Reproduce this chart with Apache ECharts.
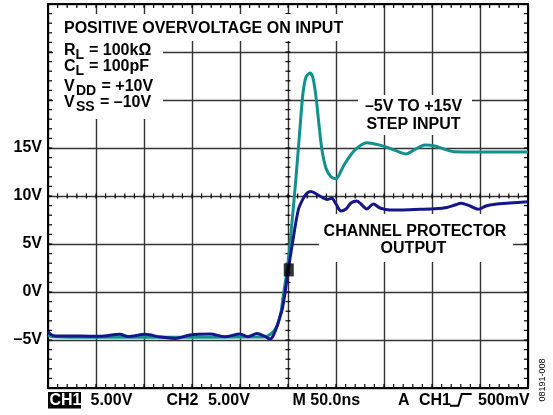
<!DOCTYPE html>
<html><head><meta charset="utf-8">
<script src="https://cdn.jsdelivr.net/npm/echarts@6/dist/echarts.min.js"></script>
<style>html,body{margin:0;padding:0;background:#fff}#c{width:553px;height:415px}</style>
</head><body><div id="c"></div>
<script>
// time in ns (50 ns/div), volts (5 V/div)
const inputTime  = [-250,-245,-200,-150,-100,-50,-30,-22.9,-18.75,-14.6,-10.4,-7.3,-4.7,-2.1,0,4.2,8.3,12.5,15.6,18.75,22.9,26,29.2,32.3,35.4,39.6,44.8,50,55.2,59.4,69.8,82,95.8,106,116.7,123,132.3,142.7,153,163.5,174,200,250];
const inputVolts = [-4.5,-4.65,-4.72,-4.7,-4.72,-4.7,-4.7,-4.64,-4.43,-4.06,-3.28,-2.08,-0.2,1.46,3.0,7.3,11.9,17.1,20.7,22.4,22.8,22.3,20.3,17.4,14.8,12.9,12.0,11.8,12.6,13.4,14.8,15.55,15.3,14.97,14.55,14.38,14.86,15.3,15.2,14.86,14.6,14.58,14.58];
const outputTime  = [-250,-246.9,-241.7,-216.7,-195.8,-175,-166.7,-149,-133,-117.7,-102,-81.25,-65.6,-50,-41.7,-32.3,-25,-18.75,-15.6,-11.5,-9.4,-6.25,-3.1,0.3,4.5,10.7,15.6,19.8,24,31.25,36.5,40.6,45.5,50,55.2,60.4,65.6,71.6,76,82,88.9,95.8,106.3,116.7,137.5,153,165.6,174,180.2,189.6,198.2,206.25,215.6,231.25,250];
const outputVolts = [-4.14,-4.43,-4.58,-4.58,-4.62,-4.41,-4.64,-4.41,-4.69,-4.84,-4.48,-4.38,-4.66,-4.38,-4.66,-4.32,-4.58,-4.9,-4.58,-3.6,-2.9,-1.9,-0.1,2.3,5.0,8.54,9.7,10.3,10.47,10.1,9.8,9.64,9.76,9.17,8.44,8.65,9.27,9.48,9.17,8.65,9.17,8.75,8.54,8.54,8.61,8.67,8.8,9.06,9.24,8.96,8.61,8.96,9.14,9.27,9.4];
const triggerMark = [0.8, 2.3];
const yTickValues = [-5, 0, 5, 10, 15];
const yTickLabels = ['–5V', '0V', '5V', '10V', '15V'];
const X_MIN = -250, X_MAX = 250, X_STEP = 50, X_MINOR = 10;
const Y_MIN = -10, Y_MAX = 30, Y_STEP = 5, Y_MINOR = 1;
const X_CENTER = 0, Y_CENTER = 10;

const FONT = '"Liberation Sans", Arial, Helvetica, sans-serif';
const B16 = 'bold 16px ' + FONT;
const B14 = 'bold 14px ' + FONT;
const gridCol = '#333';

function zip(a, b) { return a.map((v, i) => [v, b[i]]); }

const borderLine = { show: true, onZero: false, lineStyle: { color: '#000', width: 2 } };
const blankLabel = { show: true, inside: true, margin: 0, fontSize: 1, formatter: function () { return ''; } };

function xAx(pos, opts) {
  return Object.assign({
    type: 'value', min: X_MIN, max: X_MAX, interval: X_STEP, position: pos,
    axisLine: borderLine, axisTick: { show: false }, axisLabel: blankLabel, splitLine: { show: false }
  }, opts);
}
function yAx(pos, opts) {
  return Object.assign({
    type: 'value', min: Y_MIN, max: Y_MAX, interval: Y_STEP, position: pos,
    axisLine: borderLine, axisTick: { show: false }, axisLabel: blankLabel, splitLine: { show: false }
  }, opts);
}

const chart = echarts.init(document.getElementById('c'), null, { renderer: 'canvas' });

function txt(text, x, y, font, align, fill) {
  return { type: 'text', z: 60, style: { text: text, x: x, y: y, font: font, fill: fill || '#000',
    textAlign: align || 'left', align: align || 'left', textVerticalAlign: 'middle', verticalAlign: 'middle' } };
}
function box(x, y, w, h, fill) {
  return { type: 'rect', z: 50, shape: { x: x, y: y, width: w, height: h }, style: { fill: fill || '#fff' } };
}

chart.setOption({
  animation: false,
  backgroundColor: '#fff',
  grid: { left: 48, top: 4, width: 480, height: 384, containLabel: false },
  xAxis: [
    xAx('bottom', { splitLine: { show: true, lineStyle: { color: gridCol, width: 1.4 } } }),
    xAx('top')
  ],
  yAxis: [
    yAx('left', {
      splitLine: { show: true, lineStyle: { color: gridCol, width: 1.4 } },
      axisLabel: { show: true, margin: 6, color: '#000', fontFamily: FONT, fontWeight: 'bold', fontSize: 16,
        formatter: function (v) { const i = yTickValues.indexOf(v); return i >= 0 ? yTickLabels[i] : ''; } }
    }),
    yAx('right')
  ],
  series: [
    { type: 'line', name: 'input', xAxisIndex: 0, yAxisIndex: 0, data: zip(inputTime, inputVolts),
      showSymbol: false, smooth: 0.3, z: 3, lineStyle: { color: '#12908e', width: 3 } },
    { type: 'line', name: 'output', xAxisIndex: 0, yAxisIndex: 0, data: zip(outputTime, outputVolts),
      showSymbol: false, smooth: 0.3, z: 4, lineStyle: { color: '#15158c', width: 3 } },
    { type: 'scatter', xAxisIndex: 0, yAxisIndex: 0, data: [triggerMark], symbol: 'rect', symbolSize: [10, 13],
      itemStyle: { color: '#000' }, z: 5 }
  ]
});

// graticule minor ticks, placed through the chart's own axis scales
const px = (t, v) => chart.convertToPixel({ gridIndex: 0 }, [t, v]);
const tickEls = [];
function tline(x1, y1, x2, y2) {
  tickEls.push({ type: 'line', z: 1, shape: { x1: x1, y1: y1, x2: x2, y2: y2 },
    style: { stroke: '#000', lineWidth: 1.2 } });
}
const yBot = px(X_MIN, Y_MIN)[1], yTop = px(X_MIN, Y_MAX)[1], yMid = px(X_MIN, Y_CENTER)[1];
const xLeft = px(X_MIN, Y_MIN)[0], xRight = px(X_MAX, Y_MIN)[0], xMid = px(X_CENTER, Y_MIN)[0];
for (let t = X_MIN + X_MINOR; t < X_MAX; t += X_MINOR) {
  const x = px(t, Y_MIN)[0];
  tline(x, yBot, x, yBot - 4);
  tline(x, yTop, x, yTop + 4);
  tline(x, yMid - 2.5, x, yMid + 2.5);
}
for (let v = Y_MIN + Y_MINOR; v < Y_MAX; v += Y_MINOR) {
  const y = px(X_MIN, v)[1];
  tline(xLeft, y, xLeft + 4, y);
  tline(xRight, y, xRight - 4, y);
  tline(xMid - 2.5, y, xMid + 2.5, y);
}

chart.setOption({
  graphic: { elements: tickEls.concat([
    box(53, 14, 299, 27),
    box(53, 40, 110, 79),
    box(358, 95, 114, 40),
    box(319, 214, 194, 48),
    txt('POSITIVE OVERVOLTAGE ON INPUT', 64, 29, B16),
    txt('R', 64, 51, B16), txt('L', 75.5, 55.5, B14), txt('= 100kΩ', 89, 51, B16),
    txt('C', 64, 67, B16), txt('L', 75.5, 71.5, B14), txt('= 100pF', 89, 67, B16),
    txt('V', 64, 86.5, B16), txt('DD', 76, 91.5, B14), txt('= +10V', 101.5, 86.5, B16),
    txt('V', 64, 102.5, B16), txt('SS', 76, 107, B14), txt('= –10V', 100, 102.5, B16),
    txt('–5V TO +15V', 413.5, 107, B16, 'center'),
    txt('STEP INPUT', 413.5, 125, B16, 'center'),
    txt('CHANNEL PROTECTOR', 415, 232, B16, 'center'),
    txt('OUTPUT', 413.5, 249, B16, 'center'),
    box(48, 392, 33, 16.5, '#000'),
    txt('CH1', 49.5, 401, B16, 'left', '#fff'),
    txt('5.00V', 90.5, 401, B16),
    txt('CH2', 166.5, 401, B16),
    txt('5.00V', 208, 401, B16),
    txt('M 50.0ns', 292.5, 401, B16),
    txt('A', 398, 401, B16),
    txt('CH1', 419, 401, B16),
    { type: 'polyline', z: 60, shape: { points: [[450, 405.7], [458.3, 405.7], [461.7, 394], [471.7, 394]] },
      style: { stroke: '#000', lineWidth: 2, fill: null } },
    txt('500mV', 478, 401, B16),
    { type: 'text', z: 60, x: 543, y: 380, rotation: Math.PI / 2,
      style: { text: '08191-008', x: 0, y: 0, font: '9px ' + FONT, fill: '#000',
        textAlign: 'center', align: 'center', textVerticalAlign: 'middle', verticalAlign: 'middle' } }
  ]) }
});
</script>
</body></html>
